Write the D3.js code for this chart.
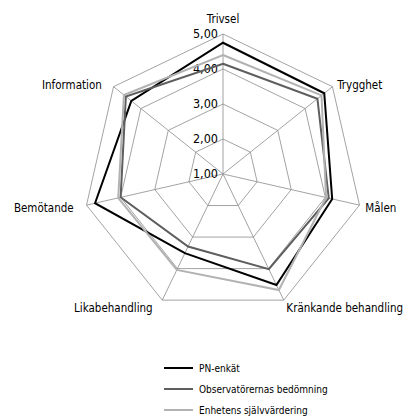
<!DOCTYPE html>
<html>
<head>
<meta charset="utf-8">
<script src="https://cdn.jsdelivr.net/npm/d3@7"></script>
<style>
  body { margin: 0; background: #fff; }
  svg { display: block; }
  text { font-family: "Liberation Sans Narrow", "DejaVu Sans Condensed", "Roboto Condensed", sans-serif; fill: #000; }
</style>
</head>
<body>
<script>
"use strict";

var axes = ["Trivsel", "Trygghet", "Målen", "Kränkande behandling", "Likabehandling", "Bemötande", "Information"];
var ticks = [1, 2, 3, 4, 5];
var seriesNames = ["PN-enkät", "Observatörernas bedömning", "Enhetens självvärdering"];
var pnEnkat = [4.75, 4.70, 4.20, 4.52, 3.51, 4.75, 4.35];
var observatorer = [4.15, 4.45, 4.10, 4.02, 3.30, 4.00, 4.55];
var sjalvvardering = [4.40, 4.60, 4.02, 4.68, 4.04, 4.07, 4.62];
var colors = ["#000000", "#5e5e5e", "#b2b2b2"];

(function () {
  var width = 405, height = 419, cx = 223, cy = 174, R = 140;
  var series = [pnEnkat, observatorer, sjalvvardering];
  var svg = d3.select("body").append("svg")
    .attr("width", width)
    .attr("height", height);

  var r = d3.scaleLinear().domain([1, 5]).range([0, R]);
  var angle = d3.scalePoint().domain(axes).range([0, 2 * Math.PI * (axes.length - 1) / axes.length]);

  var g = svg.append("g").attr("transform", "translate(" + cx + "," + cy + ")");

  // grid rings
  g.selectAll("path.ring").data(ticks.slice(1)).enter().append("path")
    .attr("class", "ring")
    .attr("d", function (t) {
      return d3.lineRadial()
        .angle(function (a) { return angle(a); })
        .radius(r(t))
        .curve(d3.curveLinearClosed)(axes);
    })
    .attr("fill", "none")
    .attr("stroke", "#8c8c8c")
    .attr("stroke-width", 0.8);

  // spokes
  g.selectAll("line.spoke").data(axes).enter().append("line")
    .attr("class", "spoke")
    .attr("x1", 0).attr("y1", 0)
    .attr("x2", function (a) { return r(5) * Math.sin(angle(a)); })
    .attr("y2", function (a) { return -r(5) * Math.cos(angle(a)); })
    .attr("stroke", "#8c8c8c")
    .attr("stroke-width", 0.8);

  // tick labels
  g.selectAll("text.tick").data(ticks).enter().append("text")
    .attr("class", "tick")
    .attr("x", -5)
    .attr("y", function (t) { return -r(t); })
    .attr("dy", "0.35em")
    .attr("text-anchor", "end")
    .attr("font-size", 12.5)
    .text(function (t) { return d3.format(".2f")(t).replace(".", ","); });

  // series
  var line = d3.lineRadial()
    .angle(function (d, i) { return angle(axes[i]); })
    .radius(function (d) { return r(d); })
    .curve(d3.curveLinearClosed);

  g.selectAll("path.series").data(series).enter().append("path")
    .attr("class", "series")
    .attr("d", line)
    .attr("fill", "none")
    .attr("stroke", function (d, i) { return colors[i]; })
    .attr("stroke-width", 2)
    .attr("stroke-linejoin", "miter");

  // axis labels
  g.selectAll("text.axis").data(axes).enter().append("text")
    .attr("class", "axis")
    .attr("font-size", 11.5)
    .each(function (a) {
      var t = angle(a), s = Math.sin(t), c = Math.cos(t), rr = R + 6;
      var x = rr * s, y = -rr * c, anchor = "middle";
      if (s > 0.1) { anchor = "start"; }
      if (s < -0.1) { anchor = "end"; x -= 7; }
      if (anchor === "middle") {
        y -= 5;
      } else {
        y += 6;
      }
      d3.select(this).attr("x", x).attr("y", y).attr("text-anchor", anchor);
    })
    .text(function (a) { return a; });

  // legend
  var leg = svg.append("g").attr("transform", "translate(164,368)");
  var item = leg.selectAll("g").data(seriesNames).enter().append("g")
    .attr("transform", function (d, i) { return "translate(0," + i * 21 + ")"; });
  item.append("line")
    .attr("x1", 0).attr("x2", 29).attr("y1", 0).attr("y2", 0)
    .attr("stroke", function (d, i) { return colors[i]; })
    .attr("stroke-width", 2);
  item.append("text")
    .attr("x", 35).attr("y", 0).attr("dy", "0.35em")
    .attr("font-size", 10)
    .text(function (d) { return d; });
}());
</script>
</body>
</html>
